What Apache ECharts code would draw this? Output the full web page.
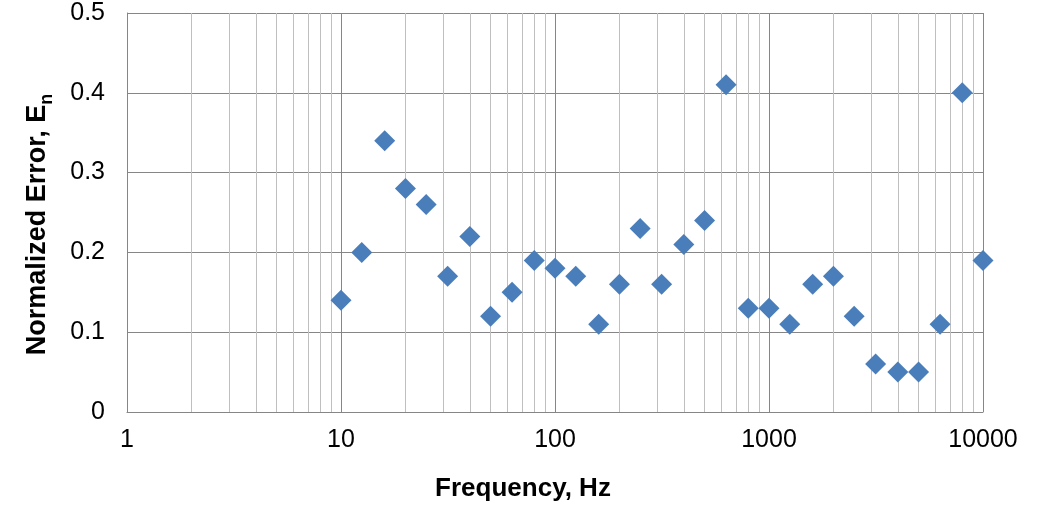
<!DOCTYPE html>
<html>
<head>
<meta charset="utf-8">
<script src="https://cdn.jsdelivr.net/npm/echarts@6/dist/echarts.min.js"></script>
<style>
  html, body { margin: 0; padding: 0; background: #fff; }
  #chart { width: 1050px; height: 505px; }
</style>
</head>
<body>
<div id="chart"></div>
<script>
// 1/3 octave band centre frequencies
var freqs = [10, 12.5, 16, 20, 25, 31.5, 40, 50, 63, 80, 100, 125, 160, 200, 250, 315,
             400, 500, 630, 800, 1000, 1250, 1600, 2000, 2500, 3150, 4000, 5000, 6300, 8000, 10000];
// normalized error En
var errors = [0.14, 0.20, 0.34, 0.28, 0.26, 0.17, 0.22, 0.12, 0.15, 0.19, 0.18, 0.17, 0.11, 0.16, 0.23, 0.16,
              0.21, 0.24, 0.41, 0.13, 0.13, 0.11, 0.16, 0.17, 0.12, 0.06, 0.05, 0.05, 0.11, 0.40, 0.19];

var myChart = echarts.init(document.getElementById('chart'));

var points = [];
for (var i = 0; i < freqs.length; i++) {
  points.push([freqs[i], errors[i]]);
}

// minor log grid lines 2..9 in each decade
var minorLines = [];
var decades = [1, 10, 100, 1000];
for (var d = 0; d < decades.length; d++) {
  for (var k = 2; k <= 9; k++) {
    minorLines.push({ xAxis: decades[d] * k });
  }
}

var font = 'Liberation Sans, Arial, sans-serif';

var option = {
  animation: false,
  grid: {
    left: 127,
    right: 67,
    top: 13,
    bottom: 93,
    outerBoundsMode: 'none'
  },
  xAxis: {
    type: 'log',
    logBase: 10,
    min: 1,
    max: 10000,
    name: 'Frequency, Hz',
    nameLocation: 'middle',
    nameGap: 64,
    nameTextStyle: {
      fontFamily: font,
      fontSize: 26,
      fontWeight: 'bold',
      color: '#000',
      padding: [0, 64, 0, 0]
    },
    axisLine: { show: true, lineStyle: { color: '#868686', width: 1 } },
    axisTick: { show: false },
    axisLabel: {
      margin: 16,
      fontFamily: font,
      fontSize: 25,
      color: '#000',
      formatter: function (v) { return String(v); }
    },
    splitLine: { show: true, lineStyle: { color: '#868686', width: 1 } }
  },
  yAxis: {
    type: 'value',
    min: 0,
    max: 0.5,
    interval: 0.1,
    name: '{main|Normalized Error, E}{sub|n}',
    nameLocation: 'middle',
    nameGap: 74,
    nameTextStyle: {
      fontFamily: font,
      color: '#000',
      padding: [0, 24, 0, 0],
      rich: {
        main: {
          fontFamily: font,
          fontSize: 27,
          fontWeight: 'bold',
          color: '#000',
          lineHeight: 29,
          verticalAlign: 'top'
        },
        sub: {
          fontFamily: font,
          fontSize: 18,
          fontWeight: 'bold',
          color: '#000',
          lineHeight: 18,
          padding: [14, 0, 0, 0],
          verticalAlign: 'top'
        }
      }
    },
    axisLine: { show: true, lineStyle: { color: '#868686', width: 1 } },
    axisTick: { show: false },
    axisLabel: {
      margin: 22,
      fontFamily: font,
      fontSize: 25,
      color: '#000',
      formatter: function (v) { return v === 0 ? '0' : v.toFixed(1); }
    },
    splitLine: { show: true, lineStyle: { color: '#868686', width: 1 } }
  },
  series: [
    {
      // minor grid
      type: 'scatter',
      data: [],
      z: 1,
      silent: true,
      markLine: {
        silent: true,
        symbol: 'none',
        label: { show: false },
        lineStyle: { color: '#BFBFBF', width: 1, type: 'solid' },
        emphasis: { disabled: true },
        animation: false,
        data: minorLines
      }
    },
    {
      type: 'scatter',
      z: 5,
      symbol: 'diamond',
      symbolSize: 21,
      itemStyle: { color: '#4A7EBB', opacity: 1 },
      data: points
    }
  ]
};

myChart.setOption(option);
window.addEventListener('resize', function () {
  myChart.resize();
});
</script>
</body>
</html>
